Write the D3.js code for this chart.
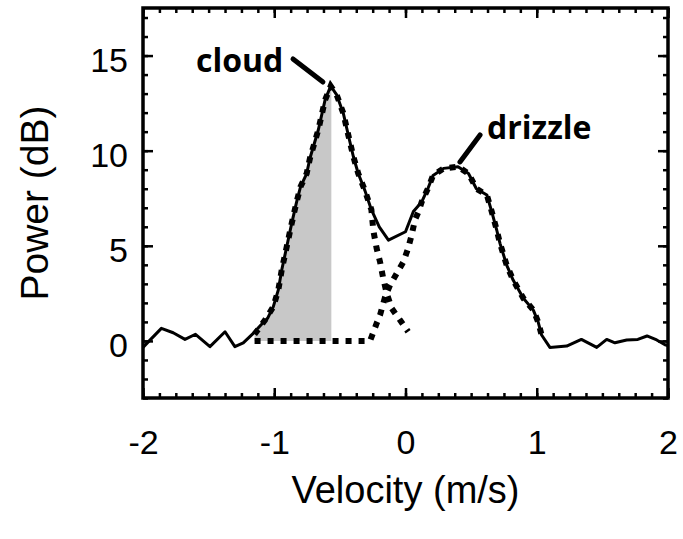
<!DOCTYPE html>
<html>
<head>
<meta charset="utf-8">
<script src="https://cdn.jsdelivr.net/npm/d3@7"></script>
<style>
  html, body { margin: 0; padding: 0; background: #fff; }
  svg { display: block; }
  text { font-family: "Liberation Sans", Arial, sans-serif; fill: #000; }
</style>
</head>
<body>
<svg id="chart" width="683" height="539"></svg>
<script>
// ---- data ----
const velocity = [-2.00,-1.96,-1.86,-1.77,-1.68,-1.60,-1.49,-1.375,-1.30,-1.236,-1.16,-1.10,-1.05,-1.007,-0.969,-0.943,-0.905,-0.867,-0.83,-0.80,-0.753,-0.728,-0.664,-0.613,-0.57,-0.524,-0.474,-0.435,-0.397,-0.36,-0.309,-0.26,-0.20,-0.13,0.0,0.06,0.123,0.17,0.21,0.29,0.40,0.48,0.54,0.62,0.657,0.695,0.72,0.77,0.82,0.898,0.974,1.01,1.037,1.10,1.228,1.34,1.457,1.533,1.596,1.685,1.77,1.84,1.914,1.977,2.0];
const power    = [-0.35,-0.05,0.66,0.43,0.08,0.35,-0.3,0.48,-0.3,-0.1,0.4,0.85,1.2,1.8,2.68,3.73,4.95,6.18,7.3,8.1,8.8,9.6,11.1,12.66,13.4,12.93,11.97,10.8,9.68,8.8,7.9,6.9,6.0,5.3,5.74,6.8,7.3,8.0,8.7,9.07,9.16,8.8,8.0,7.67,6.8,5.83,5.13,4.0,3.2,2.24,1.62,1.01,0.31,-0.34,-0.27,0.08,-0.34,0.08,-0.1,0.05,0.08,0.26,0.05,-0.2,-0.25];

// cloud fit (dotted)
const cloudV = [-1.15,-1.07,-1.007,-0.969,-0.943,-0.905,-0.867,-0.83,-0.80,-0.753,-0.728,-0.664,-0.613,-0.57,-0.524,-0.474,-0.435,-0.397,-0.36,-0.309,-0.26,-0.245,-0.22,-0.194,-0.17,-0.143,-0.105,-0.042,0.02];
const cloudP = [0.35,1.1,1.8,2.68,3.73,4.95,6.18,7.3,8.1,8.8,9.6,11.1,12.66,13.4,12.93,11.97,10.8,9.68,8.8,7.9,6.9,5.8,4.87,4.16,3.29,2.5,1.71,1.1,0.48];

// drizzle fit (dotted), starting from the end of the noise baseline
const drizV = [-1.15,-0.27,-0.22,-0.194,-0.156,-0.118,-0.067,-0.016,0.02,0.047,0.072,0.10,0.123,0.17,0.21,0.29,0.40,0.48,0.54,0.62,0.657,0.695,0.72,0.77,0.82,0.898,0.974,1.01,1.037];
const drizP = [0,0,0.92,1.36,2.3,2.94,3.55,4.16,4.87,5.57,6.36,6.8,7.3,8.0,8.7,9.07,9.16,8.8,8.0,7.67,6.8,5.83,5.13,4.0,3.2,2.24,1.62,1.01,0.31];

// shaded cloud area limits
const shadeFrom = -1.15, shadeTo = -0.565, shadeBase = 0;

const xTicks = [-2,-1,0,1,2];
const yTicks = [0,5,10,15];
const xTitle = "Velocity (m/s)";
const yTitle = "Power (dB)";

const labels = [
  {text:"cloud",   x:-1.596, y:14.14, lx1:-0.857, ly1:14.82, lx2:-0.629, ly2:13.61},
  {text:"drizzle", x:0.621,  y:10.61, lx1:0.568,  ly1:10.83, lx2:0.415,  ly2:9.41}
];

// ---- layout ----
const svg = d3.select("#chart");
const x = d3.scaleLinear().domain([-2,2]).range([143,668]);
const y = d3.scaleLinear().domain([-3,17.5]).range([398,8]);

const solid = velocity.map((v,i)=>[v,power[i]]);
const cloud = cloudV.map((v,i)=>[v,cloudP[i]]);
const driz  = drizV.map((v,i)=>[v,drizP[i]]);

const line = d3.line().x(d=>x(d[0])).y(d=>y(d[1]));

const interp = (arr, v) => {
  for (let i=0;i<arr.length-1;i++){
    if (arr[i][0]<=v && arr[i+1][0]>=v){
      const t=(v-arr[i][0])/(arr[i+1][0]-arr[i][0]);
      return arr[i][1]+t*(arr[i+1][1]-arr[i][1]);
    }
  }
  return 0;
};
const shadeTop = cloud.filter(d=>d[0]>=shadeFrom && d[0]<shadeTo);
shadeTop.push([shadeTo, interp(cloud, shadeTo)]);
const area = d3.area().x(d=>x(d[0])).y0(y(shadeBase)).y1(d=>y(d[1]));
svg.append("path").datum(shadeTop).attr("d", area).attr("fill","#c8c8c8");

// dotted fits
[cloud, driz].forEach(dat=>{
  svg.append("path").datum(dat).attr("d", line)
    .attr("fill","none").attr("stroke","#000").attr("stroke-width",6)
    .attr("stroke-dasharray","6,7");
});

// solid spectrum
svg.append("path").datum(solid).attr("d", line)
  .attr("fill","none").attr("stroke","#000").attr("stroke-width",3)
  .attr("stroke-linejoin","round");

// axes (ticks inward on all sides)
const minorX = d3.range(-2, 2.0001, 0.125);
const minorY = d3.range(-3, 17.5001, 1);
function styleAxis(g){ g.select(".domain").remove(); g.selectAll("line").attr("stroke","#000").attr("stroke-width",2.5); }

svg.append("g").attr("transform","translate(0,398)")
  .call(d3.axisBottom(x).tickValues(minorX).tickSize(-5).tickFormat("")).call(styleAxis);
svg.append("g").attr("transform","translate(0,8)")
  .call(d3.axisTop(x).tickValues(minorX).tickSize(-5).tickFormat("")).call(styleAxis);
svg.append("g").attr("transform","translate(143,0)")
  .call(d3.axisLeft(y).tickValues(minorY).tickSize(-5).tickFormat("")).call(styleAxis);
svg.append("g").attr("transform","translate(668,0)")
  .call(d3.axisRight(y).tickValues(minorY).tickSize(-5).tickFormat("")).call(styleAxis);

const bx = svg.append("g").attr("transform","translate(0,398)")
  .call(d3.axisBottom(x).tickValues(xTicks).tickSize(-10).tickPadding(32).tickFormat(d=>d3.format("d")(d).replace("−","-")))
  .call(styleAxis);
bx.selectAll("text").attr("font-size",34).attr("font-family","Liberation Sans, Arial, sans-serif").attr("fill","#000");
svg.append("g").attr("transform","translate(0,8)")
  .call(d3.axisTop(x).tickValues(xTicks).tickSize(-10).tickFormat("")).call(styleAxis);

const ly = svg.append("g").attr("transform","translate(143,0)")
  .call(d3.axisLeft(y).tickValues(yTicks).tickSize(-10).tickPadding(15).tickFormat(d3.format("d")))
  .call(styleAxis);
ly.selectAll("text").attr("font-size",34).attr("dy","0.47em").attr("font-family","Liberation Sans, Arial, sans-serif").attr("fill","#000");
svg.append("g").attr("transform","translate(668,0)")
  .call(d3.axisRight(y).tickValues(yTicks).tickSize(-10).tickFormat("")).call(styleAxis);

// frame
svg.append("rect").attr("x",x(-2)).attr("y",y(17.5))
  .attr("width",x(2)-x(-2)).attr("height",y(-3)-y(17.5))
  .attr("fill","none").attr("stroke","#000").attr("stroke-width",3.5);

// titles
svg.append("text").attr("x",(x(-2)+x(2))/2).attr("y",503)
  .attr("text-anchor","middle").attr("font-size",38).text(xTitle);
svg.append("text").attr("transform",`translate(48,${(y(-3)+y(17.5))/2})rotate(-90)`)
  .attr("text-anchor","middle").attr("font-size",39).text(yTitle);

// annotations
labels.forEach(l=>{
  svg.append("line").attr("x1",x(l.lx1)).attr("y1",y(l.ly1)).attr("x2",x(l.lx2)).attr("y2",y(l.ly2))
    .attr("stroke","#000").attr("stroke-width",5).attr("stroke-linecap","round");
  svg.append("text").attr("x",x(l.x)).attr("y",y(l.y))
    .style("font-family","'Open Sans', sans-serif").attr("font-weight",700)
    .attr("font-size",32).text(l.text);
});
</script>
</body>
</html>
